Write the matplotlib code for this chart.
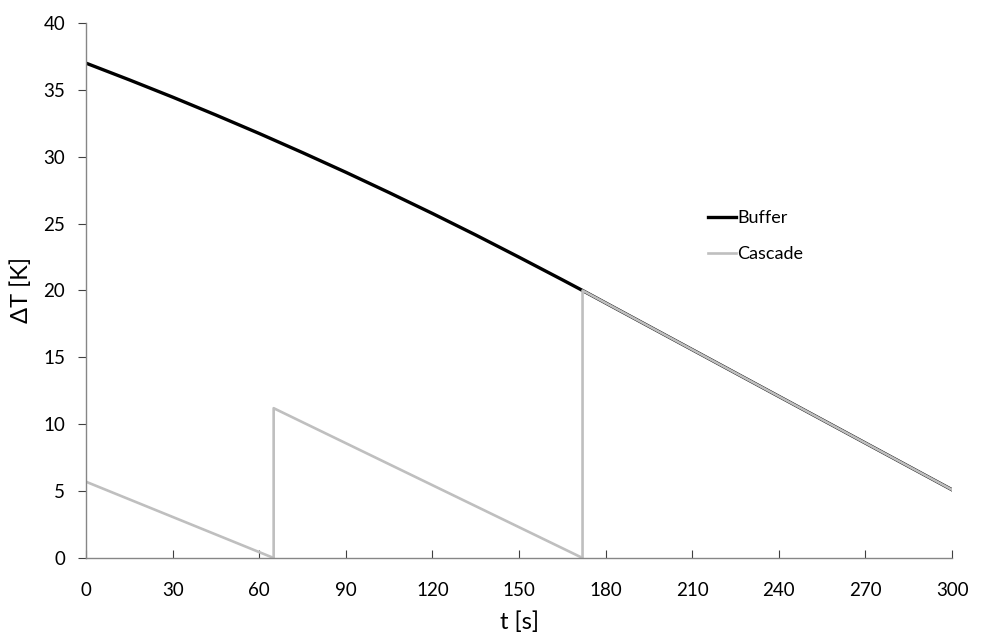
import matplotlib.pyplot as plt

plt.rcParams['font.family'] = ['Lato', 'DejaVu Sans']

# Buffer tank temperature difference
t_buffer = [0, 15, 30, 45, 60, 75, 90, 105, 120, 135, 150, 165, 172, 300]
dT_buffer = [37.0, 35.75, 34.46, 33.12, 31.74, 30.31, 28.84, 27.32, 25.76, 24.15,
             22.49, 20.80, 20.0, 5.1]

# Cascade: emptied stages, then refilled
t_cascade = [0, 65, 65, 172, 172, 300]
dT_cascade = [5.7, 0.0, 11.2, 0.0, 20.0, 5.1]

fig = plt.figure(figsize=(9.82, 6.34), dpi=100)
ax = fig.add_axes([0.0876, 0.1199, 0.8819, 0.8438])

ax.plot(t_buffer, dT_buffer, color='black', lw=2.4, label='Buffer')
ax.plot(t_cascade, dT_cascade, color='#bfbfbf', lw=1.9, label='Cascade')

ax.set_xlim(0, 300)
ax.set_ylim(0, 40)
ax.set_xticks(range(0, 301, 30))
ax.set_yticks(range(0, 41, 5))

for side in ('top', 'right'):
    ax.spines[side].set_visible(False)
for side in ('left', 'bottom'):
    ax.spines[side].set_color('#868686')
    ax.spines[side].set_linewidth(1.0)

ax.tick_params(axis='x', direction='in', length=6, color='#404040', labelsize=13.5, pad=17)
ax.tick_params(axis='y', direction='out', length=6, color='#404040', labelsize=13.5, pad=9)

ax.set_xlabel('t [s]', fontsize=17, labelpad=9)
ax.set_ylabel('ΔT [K]', fontsize=17, labelpad=8)

ax.legend(loc='upper left', bbox_to_anchor=(0.70, 0.68), frameon=False,
          fontsize=13, handlelength=1.5, handletextpad=0.1, labelspacing=1.1)

fig.savefig('out.png', dpi=100)
